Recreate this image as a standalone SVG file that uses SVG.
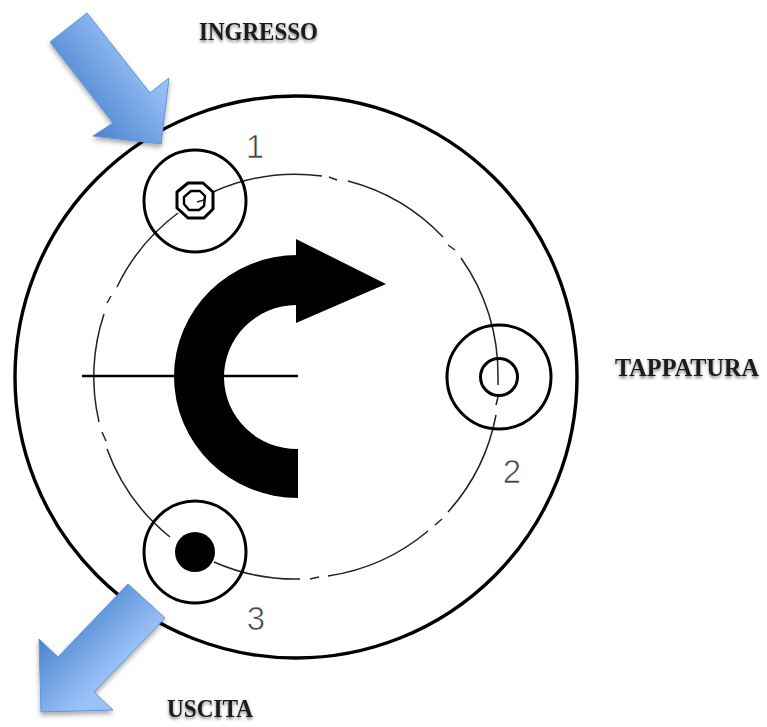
<svg xmlns="http://www.w3.org/2000/svg" width="767" height="727" viewBox="0 0 767 727">
<defs>
<linearGradient id="g1" gradientUnits="userSpaceOnUse" x1="93" y1="136" x2="168" y2="78"><stop offset="0" stop-color="#4a82d0"/><stop offset="1" stop-color="#9fc6f8"/></linearGradient>
<linearGradient id="g2" gradientUnits="userSpaceOnUse" x1="39" y1="639" x2="93" y2="693"><stop offset="0" stop-color="#4a82d0"/><stop offset="1" stop-color="#9ac2f6"/></linearGradient>
<filter id="as" x="-20%" y="-20%" width="140%" height="140%"><feDropShadow dx="0" dy="3" stdDeviation="2.500" flood-color="#000" flood-opacity="0.35"/></filter>
<filter id="ts" x="-3%" y="-20%" width="106%" height="150%"><feDropShadow dx="0" dy="2" stdDeviation="1.800" flood-color="#000" flood-opacity="0.5"/></filter>
</defs>
<style>
.h{fill:none;stroke:#000;stroke-width:3;stroke-linejoin:round}
.c{fill:none;stroke:#222;stroke-width:1.500}
.a{stroke:#5f94d6;stroke-width:1;filter:url(#as)}
.l{font-family:"Liberation Serif",serif;font-weight:700;font-size:26px;fill:#1a1a1a;filter:url(#ts)}
.n{font-family:"Liberation Sans",sans-serif;font-size:33px;fill:#444;stroke:#fff;stroke-width:.7;text-anchor:middle}
</style>
<rect width="767" height="727" fill="#fff"/>
<g id="disc"><circle cx="296" cy="377" r="281" fill="none" stroke="#000" stroke-width="3.400"/></g>
<g id="connectors">
<g class="c">
<path d="M213 192A201 201 0 0 1 322 176"/><path d="M329 177L337 180"/><path d="M348 181A201 201 0 0 1 443 237"/><path d="M448 245L455 250"/>
<path d="M461 258A201 201 0 0 1 498 377V385"/><path d="M498 397L496 405"/><path d="M496 415A201 201 0 0 1 448 512"/><path d="M442 519L435 525"/>
<path d="M428 531A201 201 0 0 1 328 576"/><path d="M319 577L310 579"/><path d="M300 579A201 201 0 0 1 214 562"/>
<path d="M170 537A201 201 0 0 1 107 449"/><path d="M106 441L102 432"/><path d="M99 422A201 201 0 0 1 104 314"/><path d="M107 303L111 296"/><path d="M117 287A201 201 0 0 1 178 213"/>
<path d="M197 202L204 200"/>
</g>
<path d="M82 376H298" fill="none" stroke="#000" stroke-width="2.600"/>
<path id="rotation" d="M298 255A124 121.500 0 0 0 298 498V449A73 72 0 0 1 296 305V323L386 284L296 239V255Z" fill="#000"/>
</g>
<g id="hole1"><circle class="h" cx="195" cy="201" r="51"/>
<polygon class="h" points="188,183 203,183 213,192 213,209 204,218 188,218 177,208 177,192"/>
<polygon class="h" points="191,191 200,191 205,196 204,206 199,210 189,210 184,204 184,197" style="stroke-width:2.400"/></g>
<g id="hole2"><circle class="h" cx="499" cy="377" r="52"/><circle class="h" cx="499" cy="377" r="18.500"/></g>
<g id="hole3"><circle class="h" cx="195" cy="552" r="51"/><circle cx="195" cy="552" r="20" fill="#000"/></g>
<g id="inlet"><polygon class="a" fill="url(#g1)" points="87,13 50,42 113,123 93,136 161,144 169,78 150,93"/></g>
<g id="outlet"><polygon class="a" fill="url(#g2)" points="128,584 165,618 94,692 113,710 41,712 39,639 58,657"/></g>
<g id="labels">
<text class="l" x="199" y="40" textLength="119" lengthAdjust="spacingAndGlyphs">INGRESSO</text>
<text class="l" x="615" y="376" textLength="144" lengthAdjust="spacingAndGlyphs" style="font-size:25px">TAPPATURA</text>
<text class="l" x="167" y="717" textLength="86" lengthAdjust="spacingAndGlyphs">USCITA</text>
<text class="n" x="255" y="158">1</text>
<text class="n" x="512" y="483">2</text>
<text class="n" x="256" y="630">3</text>
</g>
</svg>
